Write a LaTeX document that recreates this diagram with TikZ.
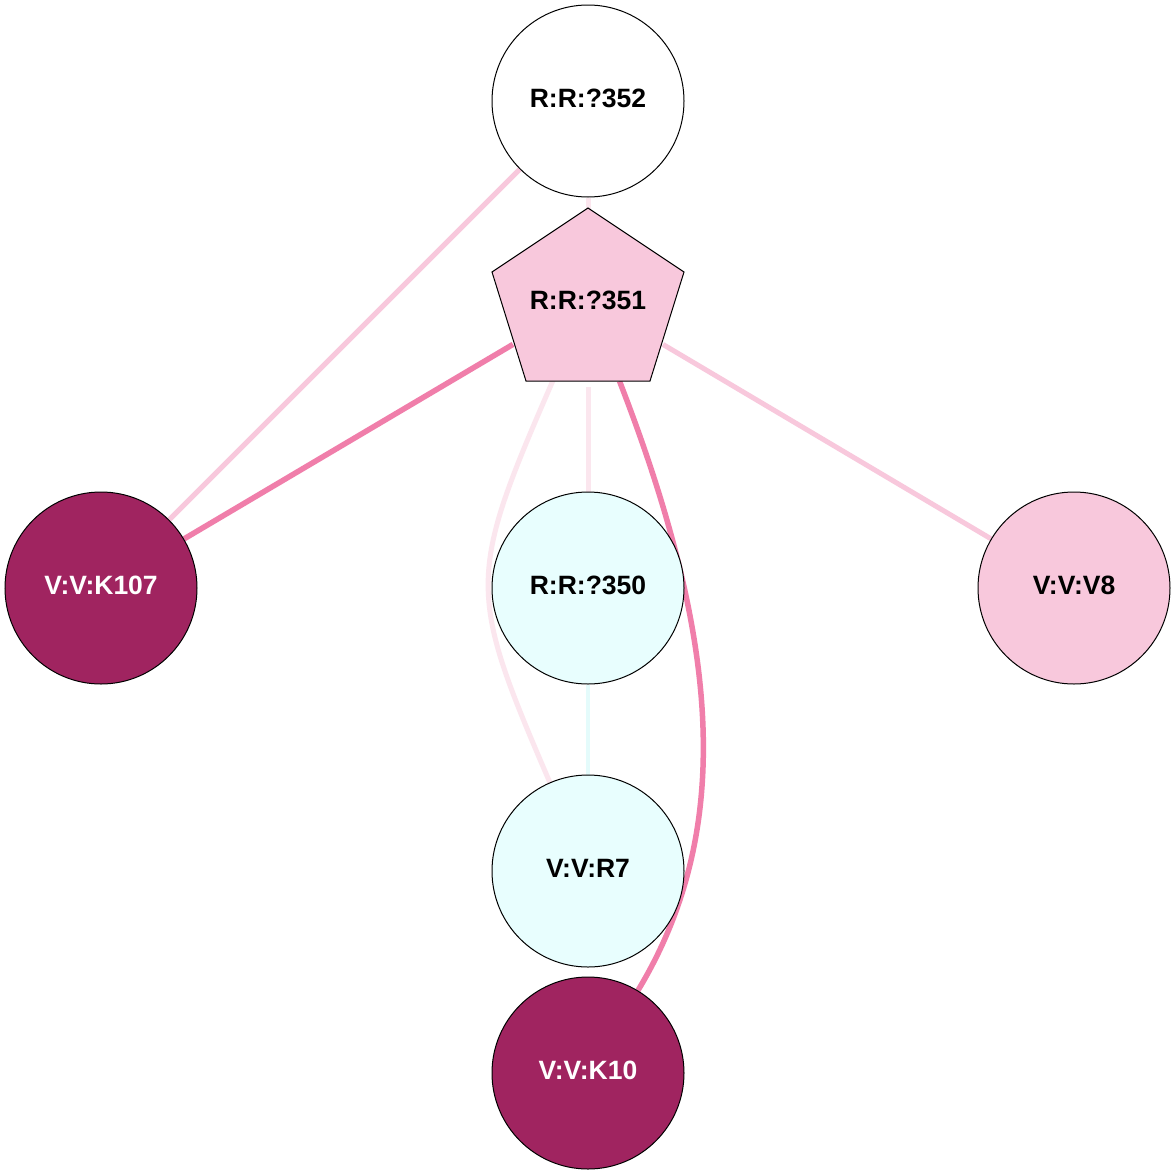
\documentclass[tikz,border=0pt]{standalone}
\usepackage{fontspec}
\setmainfont{Liberation Sans}
\usetikzlibrary{backgrounds}
\definecolor{strongpink}{HTML}{F07EAA}
\definecolor{lightpink}{HTML}{F8C8DC}
\definecolor{faintpink}{HTML}{FBE6EE}
\definecolor{faintcyan}{HTML}{E4FBFB}
\definecolor{cyanfill}{HTML}{E8FEFE}
\definecolor{darkmag}{HTML}{A02460}
\begin{document}
\begin{tikzpicture}[x=1pt,y=-1pt,
  nd/.style={circle, draw=black, line width=1pt, minimum size=192pt, inner sep=0pt,
    text height=19pt, text depth=6pt,
    font=\fontsize{26.5}{30}\selectfont\bfseries},
  ndwhite/.style={nd, fill=white, text=black},
  ndcyan/.style={nd, fill=cyanfill, text=black},
  ndpink/.style={nd, fill=lightpink, text=black},
  nddark/.style={nd, fill=darkmag, text=white},
  estrong/.style={draw=strongpink, line width=5.5pt},
  elight/.style={draw=lightpink, line width=5pt},
  efaint/.style={draw=faintpink, line width=5pt},
  ecyan/.style={draw=faintcyan, line width=4pt}]
\useasboundingbox (0,0) rectangle (1176,1176);
% pentagon body of R:R:?351
\filldraw[fill=lightpink, draw=black, line width=1pt, line join=miter]
  (588,208) -- (684,272) -- (650,381) -- (526,381) -- (492,272) -- cycle;
\node[circle, minimum size=174pt, inner sep=0pt, font=\fontsize{26.5}{30}\selectfont\bfseries] (p351) at (588,300) {R:R:?351};
\node[ndwhite] (p352) at (588,101) {R:R:?352};
\node[nddark] (k107) at (101,588) {V:V:K107};
\node[ndcyan] (p350) at (588,588) {R:R:?350};
\node[ndpink] (v8) at (1074,588) {V:V:V8};
\node[ndcyan] (r7) at (588,871) {V:V:R7};
\node[nddark] (k10) at (588,1073) {V:V:K10};
\begin{scope}[on background layer]
\fill[white] (0,0) rectangle (1176,1176);
\draw[efaint] (p352) -- (p351);
\draw[elight] (p352) -- (k107);
\draw[estrong] (p351) -- (k107);
\draw[elight] (p351) -- (v8);
\draw[efaint] (p351) -- (p350);
\draw[efaint] (p351) .. controls (467,578) and (467,590) .. (r7);
\draw[estrong] (p351) .. controls (720,640) and (735,830) .. (k10);
\draw[ecyan] (p350) -- (r7);
\end{scope}
\end{tikzpicture}
\end{document}
